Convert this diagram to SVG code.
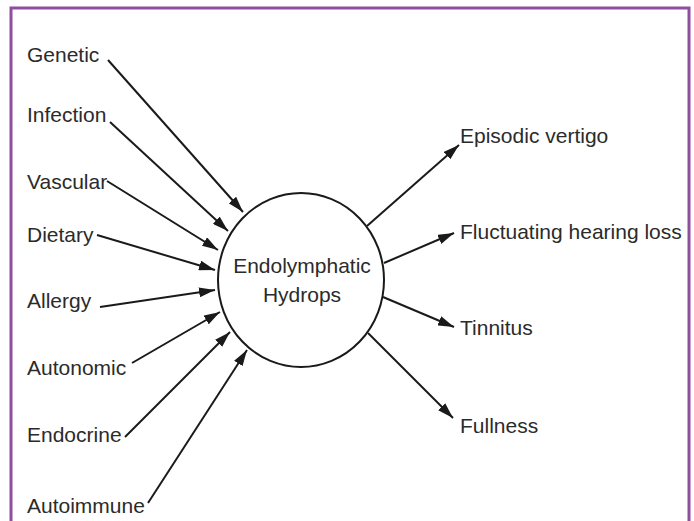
<svg xmlns="http://www.w3.org/2000/svg" width="694" height="521" viewBox="0 0 694 521">
<defs>
<marker id="ah" markerUnits="userSpaceOnUse" markerWidth="16" markerHeight="10" refX="16" refY="5" orient="auto">
<path d="M0,0 L16,5 L0,10 z" fill="#1a1a1a"/>
</marker>
<style>
.t{font-family:"Liberation Sans",Arial,sans-serif;font-size:21px;fill:#2b2b2b}
.c{stroke:#1a1a1a;stroke-width:2;fill:none;marker-end:url(#ah)}
</style>
</defs>
<rect x="0" y="0" width="694" height="521" fill="#ffffff"/>
<rect x="11" y="8" width="678" height="540" fill="none" stroke="#8e4fa0" stroke-width="3"/>
<g id="connectors">
<line class="c" x1="108" y1="60" x2="243" y2="212"/>
<line class="c" x1="110" y1="122" x2="228" y2="231"/>
<line class="c" x1="107" y1="181" x2="218" y2="250"/>
<line class="c" x1="97" y1="235" x2="215" y2="270"/>
<line class="c" x1="100" y1="307" x2="215" y2="290"/>
<line class="c" x1="132" y1="363" x2="220" y2="312"/>
<line class="c" x1="125" y1="437" x2="230" y2="332"/>
<line class="c" x1="148" y1="503" x2="247" y2="350"/>
<line class="c" x1="367" y1="226" x2="459" y2="145"/>
<line class="c" x1="384" y1="263" x2="454" y2="233"/>
<line class="c" x1="383" y1="297" x2="454" y2="327"/>
<line class="c" x1="368" y1="333" x2="453" y2="418"/>
</g>
<g id="hydrops">
<ellipse cx="301" cy="280" rx="83" ry="87" fill="#ffffff" stroke="#1a1a1a" stroke-width="2"/>
<text class="t" x="302" y="273" text-anchor="middle">Endolymphatic</text>
<text class="t" x="302" y="302" text-anchor="middle">Hydrops</text>
</g>
<g id="genetic"><text class="t" x="27" y="62">Genetic</text></g>
<g id="infection"><text class="t" x="27" y="122">Infection</text></g>
<g id="vascular"><text class="t" x="27" y="189">Vascular</text></g>
<g id="dietary"><text class="t" x="27" y="242">Dietary</text></g>
<g id="allergy"><text class="t" x="27" y="308">Allergy</text></g>
<g id="autonomic"><text class="t" x="27" y="375">Autonomic</text></g>
<g id="endocrine"><text class="t" x="27" y="442">Endocrine</text></g>
<g id="autoimmune"><text class="t" x="27" y="513">Autoimmune</text></g>
<g id="vertigo"><text class="t" x="460" y="143">Episodic vertigo</text></g>
<g id="hearing"><text class="t" x="460" y="239">Fluctuating hearing loss</text></g>
<g id="tinnitus"><text class="t" x="460" y="335">Tinnitus</text></g>
<g id="fullness"><text class="t" x="460" y="433">Fullness</text></g>
</svg>
